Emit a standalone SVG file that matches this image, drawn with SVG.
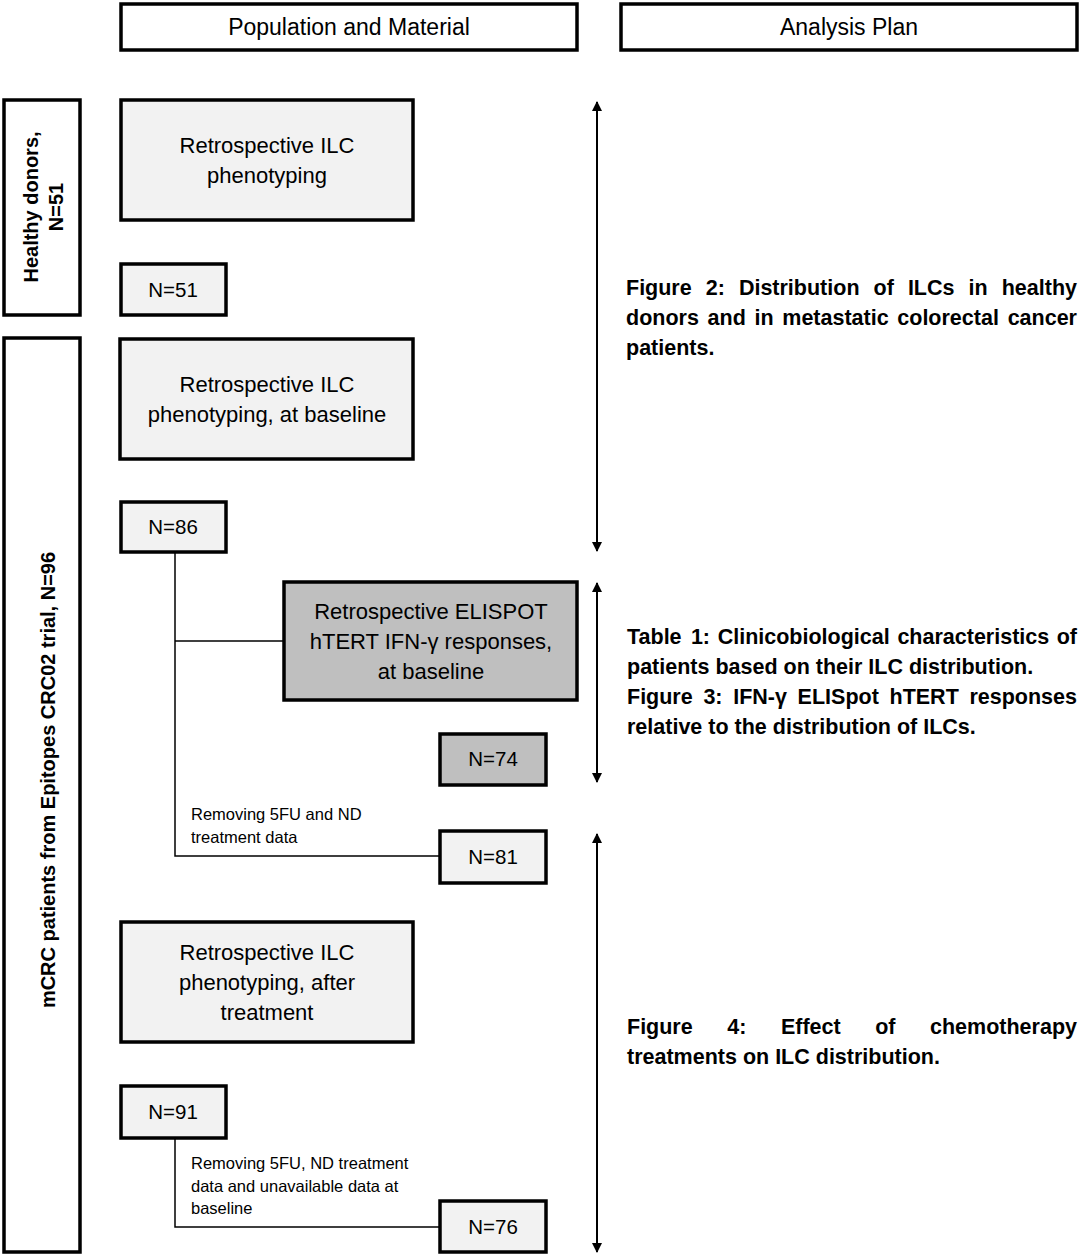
<svg xmlns="http://www.w3.org/2000/svg" width="1084" height="1257" viewBox="0 0 1084 1257">
<style>
.hdr{fill:#fff;stroke:#000;stroke-width:3.5}
.box{fill:#f2f2f2;stroke:#000;stroke-width:3.5}
.dark{fill:#bfbfbf;stroke:#000;stroke-width:3.5}
.side{fill:#fff;stroke:#000;stroke-width:3.5}
.t{font-family:"Liberation Sans",Arial,sans-serif;font-size:22px;fill:#000;text-anchor:middle}
.h{font-family:"Liberation Sans",Arial,sans-serif;font-size:23px;fill:#000;text-anchor:middle}
.n{font-family:"Liberation Sans",Arial,sans-serif;font-size:20.5px;fill:#000;text-anchor:middle}
.s{font-family:"Liberation Sans",Arial,sans-serif;font-size:16.5px;fill:#000}
.b{font-family:"Liberation Sans",Arial,sans-serif;font-size:21.5px;font-weight:bold;fill:#000}
.e{text-anchor:end}
.vb{font-family:"Liberation Sans",Arial,sans-serif;font-size:20px;font-weight:bold;fill:#000;text-anchor:middle}
.ln{fill:none;stroke:#000;stroke-width:1.5}
.ar{fill:none;stroke:#000;stroke-width:2;marker-start:url(#ah);marker-end:url(#ah)}
</style>
<defs>
<marker id="ah" viewBox="0 0 10 10" refX="9" refY="5" markerWidth="5.5" markerHeight="5" orient="auto-start-reverse" markerUnits="strokeWidth">
<path d="M0,0 L10,5 L0,10 z" fill="#000"/>
</marker>
</defs>
<rect width="1084" height="1257" fill="#fff"/>

<g id="hdr-pop"><rect class="hdr" x="121" y="4" width="456" height="46"/><text class="h" x="349" y="35">Population and Material</text></g>
<g id="hdr-plan"><rect class="hdr" x="621" y="4" width="456" height="46"/><text class="h" x="849" y="35">Analysis Plan</text></g>

<g id="side-healthy"><rect class="side" x="4" y="100" width="76" height="215"/>
<text class="vb" transform="translate(38,207) rotate(-90)"><tspan x="0" y="0">Healthy donors,</tspan><tspan x="0" y="25">N=51</tspan></text></g>
<g id="side-mcrc"><rect class="side" x="4" y="338" width="76" height="914"/>
<text class="vb" transform="translate(55,780) rotate(-90)">mCRC patients from Epitopes CRC02 trial, N=96</text></g>

<g id="n-ilc1"><rect class="box" x="121" y="100" width="292" height="120"/>
<text class="t" x="267" y="153">Retrospective ILC</text><text class="t" x="267" y="183">phenotyping</text></g>
<g id="n-51"><rect class="box" x="121" y="264" width="105" height="51"/><text class="n" x="173" y="297">N=51</text></g>

<g id="n-ilc2"><rect class="box" x="120" y="339" width="293" height="120"/>
<text class="t" x="267" y="392">Retrospective ILC</text><text class="t" x="267" y="422">phenotyping, at baseline</text></g>
<g id="n-86"><rect class="box" x="121" y="502" width="105" height="50"/><text class="n" x="173" y="534">N=86</text></g>

<g id="n-elispot"><rect class="dark" x="284" y="582" width="293" height="118"/>
<text class="t" x="431" y="619">Retrospective ELISPOT</text><text class="t" x="431" y="649">hTERT IFN-γ responses,</text><text class="t" x="431" y="679">at baseline</text></g>
<g id="n-74"><rect class="dark" x="440" y="734" width="106" height="51"/><text class="n" x="493" y="766">N=74</text></g>
<g id="n-81"><rect class="box" x="440" y="831" width="106" height="52"/><text class="n" x="493" y="864">N=81</text></g>

<g id="n-ilc3"><rect class="box" x="121" y="922" width="292" height="120"/>
<text class="t" x="267" y="960">Retrospective ILC</text><text class="t" x="267" y="990">phenotyping, after</text><text class="t" x="267" y="1020">treatment</text></g>
<g id="n-91"><rect class="box" x="121" y="1086" width="105" height="52"/><text class="n" x="173" y="1119">N=91</text></g>
<g id="n-76"><rect class="box" x="440" y="1201" width="106" height="51"/><text class="n" x="493" y="1234">N=76</text></g>

<g id="connectors">
<path class="ln" d="M175,552 V856 H440"/>
<path class="ln" d="M175,641 H284"/>
<path class="ln" d="M175,1138 V1227 H440"/>
<line class="ar" x1="597" y1="102" x2="597" y2="551"/>
<line class="ar" x1="597" y1="583" x2="597" y2="782"/>
<line class="ar" x1="597" y1="834" x2="597" y2="1252"/>
</g>

<g id="labels">
<text class="s" x="191" y="820">Removing 5FU and ND</text>
<text class="s" x="191" y="843">treatment data</text>
<text class="s" x="191" y="1169">Removing 5FU, ND treatment</text>
<text class="s" x="191" y="1192">data and unavailable data at</text>
<text class="s" x="191" y="1214">baseline</text>
</g>

<g id="plan-text">
<text class="b" y="295"><tspan x="626">Figure</tspan><tspan x="705.8">2:</tspan><tspan x="738.9">Distribution</tspan><tspan x="873.6">of</tspan><tspan x="907.9">ILCs</tspan><tspan x="968.6">in</tspan></text>
<text class="b e" x="1077" y="295">healthy</text>
<text class="b" y="325"><tspan x="626">donors</tspan><tspan x="707.6">and</tspan><tspan x="754.5">in</tspan><tspan x="782.3">metastatic</tspan><tspan x="897.3">colorectal</tspan></text>
<text class="b e" x="1077" y="325">cancer</text>
<text class="b" x="626" y="355">patients.</text>

<text class="b" y="644"><tspan x="627">Table</tspan><tspan x="690.9">1:</tspan><tspan x="717.7">Clinicobiological</tspan><tspan x="897.4">characteristics</tspan></text>
<text class="b e" x="1077" y="644">of</text>
<text class="b" x="627" y="674">patients based on their ILC distribution.</text>
<text class="b" y="704"><tspan x="627">Figure</tspan><tspan x="703.4">3:</tspan><tspan x="733.2">IFN-γ</tspan><tspan x="797.6">ELISpot</tspan><tspan x="889.5">hTERT</tspan></text>
<text class="b e" x="1077" y="704">responses</text>
<text class="b" x="627" y="734">relative to the distribution of ILCs.</text>

<text class="b" y="1034"><tspan x="627">Figure</tspan><tspan x="727.3">4:</tspan><tspan x="780.9">Effect</tspan><tspan x="875.2">of</tspan></text>
<text class="b e" x="1077" y="1034">chemotherapy</text>
<text class="b" x="627" y="1064">treatments on ILC distribution.</text>
</g>
</svg>
